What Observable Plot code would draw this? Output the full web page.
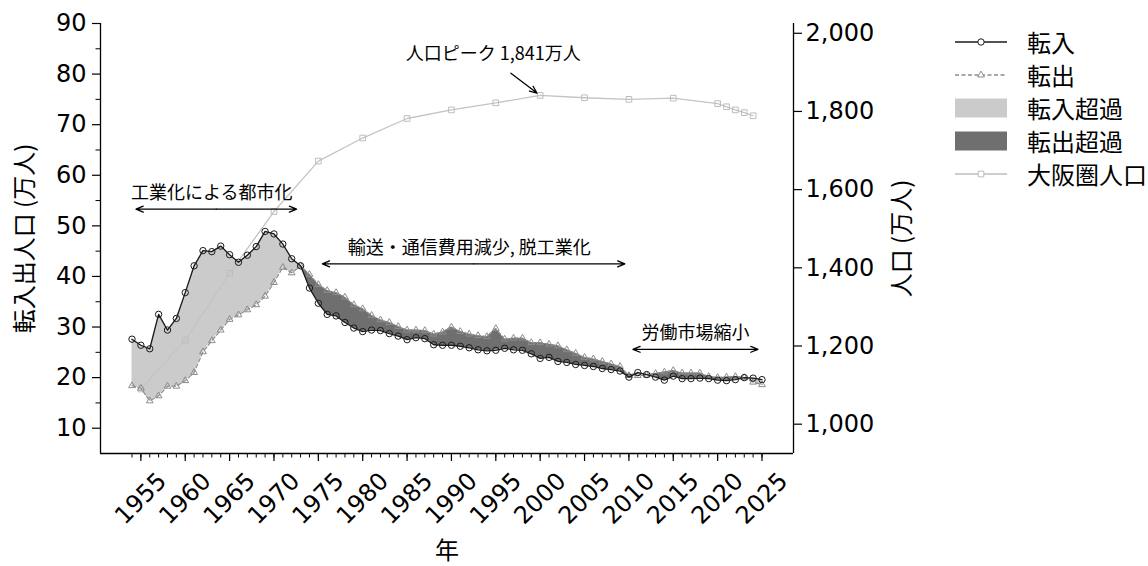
<!DOCTYPE html>
<html>
<head>
<meta charset="utf-8">
<script src="https://cdn.jsdelivr.net/npm/d3@7"></script>
<script src="https://cdn.jsdelivr.net/npm/@observablehq/plot@0.6"></script>
<style>
  body { margin: 0; background: #fff; }
  #wrap { position: relative; width: 1148px; height: 566px; }
  #legend { position: absolute; left: 955px; top: 25px; font-family: "Noto Sans CJK JP", sans-serif; font-size: 24px; color: #000; }
  .row { display: flex; align-items: center; height: 33px; }
  .row svg { margin-right: 20px; flex: none; }
</style>
</head>
<body>
<div id="wrap"><div id="chart"></div><div id="legend"></div></div>
<script>
// 年ごとの転入・転出 (万人)
const years = d3.range(1954, 2026);
const inflow = [
  27.6, 26.4, 25.7, 32.5, 29.4, 31.7, 36.8, 42.1, 45.1, 44.9,
  46.0, 44.3, 42.8, 44.2, 45.9, 48.9, 48.4, 46.4, 43.5, 42.1,
  37.7, 34.7, 32.5, 32.2, 30.9, 29.8, 29.1, 29.4, 29.3, 28.7,
  28.2, 27.5, 27.9, 27.7, 26.5, 26.4, 26.4, 26.2, 25.9, 25.5,
  25.3, 25.4, 25.8, 25.5, 25.4, 24.7, 23.8, 24.0, 23.2, 23.0,
  22.6, 22.4, 22.2, 21.8, 21.6, 21.3, 20.1, 21.0, 20.6, 20.1,
  19.5, 20.3, 19.8, 19.8, 19.9, 19.8, 19.5, 19.4, 19.6, 20.0,
  19.9, 19.6
];
const outflow = [
  18.4, 17.9, 15.4, 16.4, 18.3, 18.3, 19.4, 21.0, 25.1, 27.3,
  29.4, 31.5, 32.4, 33.4, 34.4, 36.1, 38.8, 41.8, 40.7, 42.1,
  40.4, 38.4, 37.2, 36.8, 35.9, 34.4, 33.6, 32.3, 31.4, 30.9,
  30.1, 29.4, 29.4, 29.3, 28.6, 29.0, 30.0, 29.1, 28.6, 28.3,
  28.1, 29.7, 27.6, 27.8, 27.8, 26.9, 26.9, 26.6, 26.3, 25.5,
  24.8, 24.0, 23.7, 23.2, 22.7, 22.2, 20.4, 20.4, 20.5, 20.8,
  21.1, 21.4, 20.9, 20.9, 20.9, 20.2, 20.0, 20.1, 20.2, 20.0,
  19.1, 18.6
];
// 大阪圏人口 (万人)
const popYears = [1955, 1960, 1965, 1970, 1975, 1980, 1985, 1990, 1995, 2000, 2005, 2010, 2015, 2020, 2021, 2022, 2023, 2024];
const popValues = [1090, 1215, 1386, 1544, 1673, 1732, 1782, 1804, 1822, 1841, 1835, 1831, 1834, 1820, 1812, 1804, 1797, 1789];

// 時期の注釈
const periodLabels = ["工業化による都市化", "輸送・通信費用減少, 脱工業化", "労働市場縮小"];
const periodStart = [1954, 1975, 2010];
const periodEnd = [1973, 2010, 2025];

const leftTicks = [10, 20, 30, 40, 50, 60, 70, 80, 90];
const leftMinor = [15, 25, 35, 45, 55, 65, 75, 85];
const popTicks = [1000, 1200, 1400, 1600, 1800, 2000];
const yearTicks = [1955, 1960, 1965, 1970, 1975, 1980, 1985, 1990, 1995, 2000, 2005, 2010, 2015, 2020, 2025];

const yDomain = [5, 90];
const popDomain = [925, 2025];
const toLeft = p => yDomain[0] + (p - popDomain[0]) * (yDomain[1] - yDomain[0]) / (popDomain[1] - popDomain[0]);
const fromLeft = v => popDomain[0] + (v - yDomain[0]) * (popDomain[1] - popDomain[0]) / (yDomain[1] - yDomain[0]);

const span = years[years.length - 1] - years[0];
const xDomain = [years[0] - span * 0.05, years[years.length - 1] + span * 0.05];

const flows = years.map((year, i) => ({year, in: inflow[i], out: outflow[i]}));
const pop = popYears.map((year, i) => ({year, pop: popValues[i]}));
const periods = periodLabels.map((label, i) => ({label, start: periodStart[i], end: periodEnd[i]}));
const levels = [53.3, 42.5, 25.6];   // 矢印の高さ (左軸単位)
const labelX = [1963, 1992, 2017.5];

const peak = pop[d3.maxIndex(pop, d => d.pop)];
const jp = "Noto Sans CJK JP";
const mid = d => (d.start + d.end) / 2;

const chart = Plot.plot({
  width: 1148,
  height: 566,
  marginLeft: 100,
  marginRight: 355,
  marginTop: 23,
  marginBottom: 113,
  style: {fontFamily: "DejaVu Sans, 'Noto Sans CJK JP', sans-serif", background: "white"},
  x: {domain: xDomain, label: null},
  y: {domain: yDomain, label: null},
  marks: [
    Plot.areaY(flows, {x: "year", y1: "out", y2: d => Math.max(d.in, d.out), fill: "#cbcbcb"}),
    Plot.areaY(flows, {x: "year", y1: "in", y2: d => Math.max(d.in, d.out), fill: "#6f6f6f"}),
    Plot.line(pop, {x: "year", y: d => toLeft(d.pop), stroke: "#c4c4c4", strokeWidth: 1.3}),
    Plot.dot(pop, {x: "year", y: d => toLeft(d.pop), symbol: "square", r: 3.2, stroke: "#bdbdbd", fill: "none", strokeWidth: 1}),
    Plot.line(flows, {x: "year", y: "out", stroke: "#8c8c8c", strokeWidth: 1.2, strokeDasharray: "4,2.5"}),
    Plot.dot(flows, {x: "year", y: "out", symbol: "triangle", r: 2.5, stroke: "#8c8c8c", fill: "none", strokeWidth: 1}),
    Plot.line(flows, {x: "year", y: "in", stroke: "#1a1a1a", strokeWidth: 1.3}),
    Plot.dot(flows, {x: "year", y: "in", r: 3.2, stroke: "#1a1a1a", fill: "none", strokeWidth: 1}),

    // 期間の両矢印
    Plot.arrow(periods, {x1: mid, x2: "start", y1: (d, i) => levels[i], y2: (d, i) => levels[i], insetEnd: 4, headLength: 9, headAngle: 45, stroke: "black", strokeWidth: 1.3}),
    Plot.arrow(periods, {x1: mid, x2: "end", y1: (d, i) => levels[i], y2: (d, i) => levels[i], insetEnd: 4, headLength: 9, headAngle: 45, stroke: "black", strokeWidth: 1.3}),
    Plot.text(periods, {x: (d, i) => labelX[i], y: (d, i) => levels[i], text: "label", dy: -16, fontSize: 18, fontFamily: jp, fill: "black"}),

    // 人口ピーク
    Plot.arrow([peak], {x1: d => d.year - 3.3, y1: d => toLeft(d.pop) + 4.4, x2: "year", y2: d => toLeft(d.pop), insetEnd: 4, headLength: 9, headAngle: 45, stroke: "black", strokeWidth: 1.3}),
    Plot.text([peak], {x: d => d.year - 5.3, y: d => toLeft(d.pop) + 8.1, text: d => `人口ピーク ${d3.format(",")(d.pop)}万人`, fontSize: 18, fontFamily: jp, fill: "black"}),

    // 軸
    Plot.ruleX(xDomain, {stroke: "black", strokeWidth: 1.3}),
    Plot.ruleY([yDomain[0]], {stroke: "black", strokeWidth: 1.3}),
    Plot.axisY({anchor: "left", ticks: leftTicks, tickSize: 8, tickPadding: 6, fontSize: 24, strokeWidth: 1.2, label: null}),
    Plot.axisY({anchor: "left", ticks: leftMinor, tickSize: 4.5, tickFormat: () => "", strokeWidth: 1, label: null}),
    Plot.axisY({anchor: "right", ticks: popTicks.map(toLeft), tickSize: 8, tickPadding: 4, fontSize: 24, strokeWidth: 1.2,
      tickFormat: v => d3.format(",")(Math.round(fromLeft(v))), label: null}),
    Plot.axisX({ticks: yearTicks, tickSize: 8, tickPadding: 37, tickRotate: -45, textAnchor: "middle", lineAnchor: "middle",
      tickFormat: "d", fontSize: 24, strokeWidth: 1.2, label: null}),
    Plot.axisX({ticks: years, tickSize: 4.5, tickFormat: () => "", strokeWidth: 1, label: null}),

    Plot.text(["転入出人口 (万人)"], {frameAnchor: "left", dx: -75, rotate: -90, textAnchor: "middle", lineAnchor: "middle", fontSize: 24, fontFamily: jp, fill: "black"}),
    Plot.text(["人口 (万人)"], {frameAnchor: "right", dx: 109, rotate: -90, textAnchor: "middle", lineAnchor: "middle", fontSize: 24, fontFamily: jp, fill: "black"}),
    Plot.text(["年"], {frameAnchor: "bottom", dy: 98, lineAnchor: "middle", fontSize: 24, fontFamily: jp, fill: "black"})
  ]
});

d3.select("#chart").append(() => chart);

// 凡例
const legendItems = [
  {label: "転入", kind: "line", stroke: "#1a1a1a", marker: "circle"},
  {label: "転出", kind: "line", stroke: "#8c8c8c", dash: "4,2.5", marker: "triangle"},
  {label: "転入超過", kind: "rect", fill: "#cbcbcb"},
  {label: "転出超過", kind: "rect", fill: "#6f6f6f"},
  {label: "大阪圏人口", kind: "line", stroke: "#bdbdbd", marker: "square"}
];
const rows = d3.select("#legend").selectAll("div").data(legendItems).join("div").attr("class", "row");
const sw = rows.append("svg").attr("width", 52).attr("height", 22);
sw.filter(d => d.kind === "rect").append("rect")
  .attr("x", 0).attr("y", 1.5).attr("width", 52).attr("height", 19).attr("fill", d => d.fill);
const ln = sw.filter(d => d.kind === "line");
ln.append("line").attr("x1", 0).attr("x2", 52).attr("y1", 11).attr("y2", 11)
  .attr("stroke", d => d.stroke).attr("stroke-width", 1.3).attr("stroke-dasharray", d => d.dash || null);
ln.append("path")
  .attr("transform", "translate(26,11)")
  .attr("d", d => d3.symbol(d.marker === "circle" ? d3.symbolCircle : d.marker === "triangle" ? d3.symbolTriangle : d3.symbolSquare,
    d.marker === "triangle" ? 20 : 32)())
  .attr("fill", "white").attr("stroke", d => d.stroke).attr("stroke-width", 1);
rows.append("span").text(d => d.label);
</script>
</body>
</html>
